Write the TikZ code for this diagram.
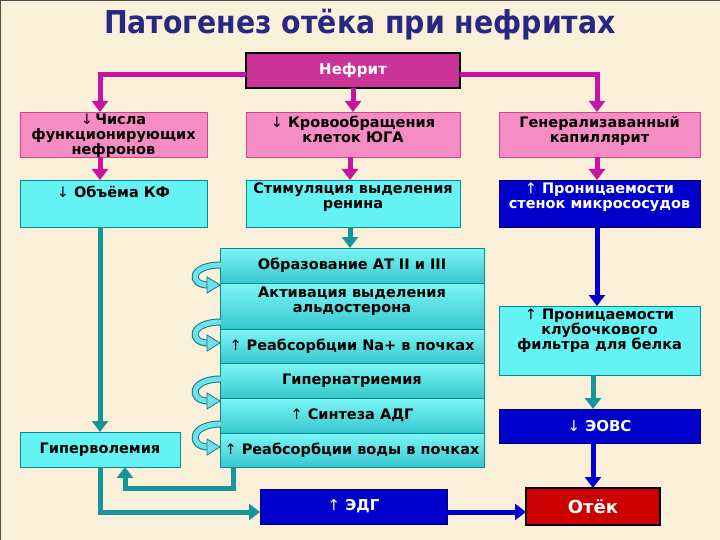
\documentclass[tikz,border=0pt]{standalone}
\usepackage{fontspec}
\setmainfont{DejaVu Sans}
\newfontfamily\titlefont{DejaVu Sans Condensed}
\usetikzlibrary{arrows.meta}
\definecolor{bgc}{RGB}{250,240,218}
\definecolor{titlec}{RGB}{40,40,130}
\definecolor{magc}{RGB}{204,51,153}
\definecolor{magarrc}{RGB}{200,20,160}
\definecolor{pinkc}{RGB}{245,140,195}
\definecolor{pinkb}{RGB}{205,70,140}
\definecolor{cyanc}{RGB}{100,242,242}
\definecolor{cyanb}{RGB}{0,140,150}
\definecolor{stacktop}{RGB}{125,246,246}
\definecolor{stackbot}{RGB}{55,200,205}
\definecolor{bluec}{RGB}{0,0,204}
\definecolor{blueb}{RGB}{0,0,110}
\definecolor{redc}{RGB}{204,0,0}
\definecolor{tealc}{RGB}{20,150,155}
\definecolor{curldark}{RGB}{20,120,130}
\definecolor{curllight}{RGB}{110,225,235}
\newcommand\arrdn{{\mdseries ↓}}
\newcommand\arrup{{\mdseries ↑}}
\newcommand\curlarr[2]{%
  \draw[line width=7pt, draw=curldark] (221,#1) .. controls (189,#1) and (189,#2) .. (208,#2);
  \draw[line width=5pt, draw=curllight] (221,#1) .. controls (189,#1) and (189,#2) .. (208.5,#2);
  \filldraw[fill=curllight, draw=curldark, line width=0.8pt] (207,#2-8) -- (220,#2) -- (207,#2+8) -- cycle;
}
\begin{document}
\begin{tikzpicture}[x=1pt,y=-1pt,
  box/.style={anchor=north west, inner sep=0pt, outer sep=0pt, line width=0.8pt},
  pinkbox/.style={box, fill=pinkc, draw=pinkb},
  cyanbox/.style={box, fill=cyanc, draw=cyanb},
  bluebox/.style={box, fill=bluec, draw=blueb, text=white},
  stackbox/.style={box, top color=stacktop, bottom color=stackbot, draw=cyanb, minimum width=264pt, font=\bfseries\fontsize{14.5}{15}\selectfont, align=center},
  txt/.style={font=\bfseries\fontsize{14.5}{15}\selectfont, align=center, inner sep=0pt, anchor=north},
  conn/.style={line width=5pt, -{Triangle[width=16pt,length=11pt]}},
  magarr/.style={conn, draw=magarrc},
  tealarr/.style={conn, draw=tealc},
  bluearr/.style={conn, draw=bluec},
]
\useasboundingbox (0,0) rectangle (720,540);
\fill[bgc] (0,0) rectangle (720,540);
\draw[black!70, line width=1pt] (0.5,540) -- (0.5,0.5) -- (720,0.5);

\node[font=\titlefont\bfseries\fontsize{31.5}{34}\selectfont, text=titlec, anchor=base] (title) at (360,34) {Патогенез отёка при нефритах};

% Нефрит
\node[box, fill=magc, draw=black, line width=2pt, minimum width=214pt, minimum height=35pt, text=white, font=\bfseries\fontsize{15}{16}\selectfont] (n) at (246,53) {Нефрит};

% row 1
\node[pinkbox, minimum width=187pt, minimum height=45pt] (b1) at (20,112) {};
\node[txt] (b1t) at (113.5,114) {\arrdn\,Числа\\функционирующих\\нефронов};
\node[pinkbox, minimum width=214pt, minimum height=45pt] (b2) at (246,112) {};
\node[txt] (b2t) at (353,116) {\arrdn\ Кровообращения\\клеток ЮГА};
\node[pinkbox, minimum width=201pt, minimum height=45pt] (b3) at (499,112) {};
\node[txt] (b3t) at (599.5,116) {Генерализаванный\\капиллярит};

% row 2
\node[cyanbox, minimum width=187pt, minimum height=47pt] (c1) at (20,180) {};
\node[txt] (c1t) at (113.5,186) {\arrdn\ Объёма КФ};
\node[cyanbox, minimum width=214pt, minimum height=47pt] (c2) at (246,180) {};
\node[txt] (c2t) at (353,183) {Стимуляция выделения\\ренина};
\node[bluebox, minimum width=201pt, minimum height=47pt] (c3) at (499,180) {};
\node[txt, text=white] (c3t) at (599.5,183) {\arrup\ Проницаемости\\стенок микрососудов};

% stack
\node[stackbox, minimum height=35pt] (s1) at (220,248) {Образование АТ II и III};
\node[stackbox, minimum height=46pt] (s2) at (220,283) {Активация выделения\\альдостерона\\[-2pt]};
\node[stackbox, minimum height=34pt] (s3) at (220,329) {\arrup\ Реабсорбции Na+ в почках};
\node[stackbox, minimum height=35pt] (s4) at (220,363) {Гипернатриемия};
\node[stackbox, minimum height=35pt] (s5) at (220,398) {\arrup\ Синтеза АДГ};
\node[stackbox, minimum height=34pt] (s6) at (220,433) {\arrup\ Реабсорбции воды в почках};

\curlarr{265}{285}
\curlarr{322}{343}
\curlarr{379}{401}
\curlarr{424}{447}

% right column
\node[cyanbox, minimum width=201pt, minimum height=69pt] (p) at (499,306) {};
\node[txt] (pt) at (599.5,309) {\arrup\ Проницаемости\\клубочкового\\фильтра для белка};
\node[bluebox, minimum width=201pt, minimum height=34pt, font=\bfseries\fontsize{15}{16}\selectfont] (e) at (499,409) {\arrdn\ ЭОВС};
\node[box, fill=redc, draw=black, line width=2pt, minimum width=134pt, minimum height=37pt, text=white, font=\bfseries\fontsize{18}{20}\selectfont] (o) at (526,488) {Отёк};
\node[bluebox, minimum width=187pt, minimum height=35pt, font=\bfseries\fontsize{15}{16}\selectfont] (d) at (260,489) {\arrup\ ЭДГ};
\node[cyanbox, minimum width=160pt, minimum height=35pt, font=\bfseries\fontsize{14.5}{15}\selectfont] (g) at (20,432) {Гиперволемия};

% connectors
\draw[magarr] ([yshift=-4pt]n.west) -| ([xshift=-13.5pt]b1.north);
\draw[magarr] ([yshift=-4pt]n.east) -| ([xshift=-2.5pt]b3.north);
\draw[magarr] (n.south) -- (b2.north);
\draw[magarr] ([xshift=-13.5pt]b1.south) -- ([xshift=-13.5pt]c1.north);
\draw[magarr] ([xshift=-3pt]b2.south) -- ([xshift=-3pt]c2.north);
\draw[magarr] ([xshift=-2.5pt]b3.south) -- ([xshift=-2.5pt]c3.north);

\draw[bluearr] ([xshift=-2.5pt]c3.south) -- ([xshift=-2.5pt]p.north);
\draw[tealarr] (o.north |- p.south) -- (o.north |- e.north);
\draw[bluearr] (o.north |- e.south) -- (o.north);

\draw[tealarr] ([xshift=-3pt]c2.south) -- ([xshift=-3pt]c2.south |- s1.north);
\draw[tealarr] (c1.south -| g.north) -- (g.north);

\coordinate (k1) at (233,488);
\coordinate (k2) at (125,488);
\coordinate (k3) at (100,512);
\draw[tealarr] (k1 |- s6.south) -- (k1) -- (k2) -- (k2 |- g.south);
\draw[tealarr] (g.south) -- (k3) -- (k3 -| d.west);
\draw[bluearr] (k3 -| d.east) -- (k3 -| o.west);
\end{tikzpicture}
\end{document}
